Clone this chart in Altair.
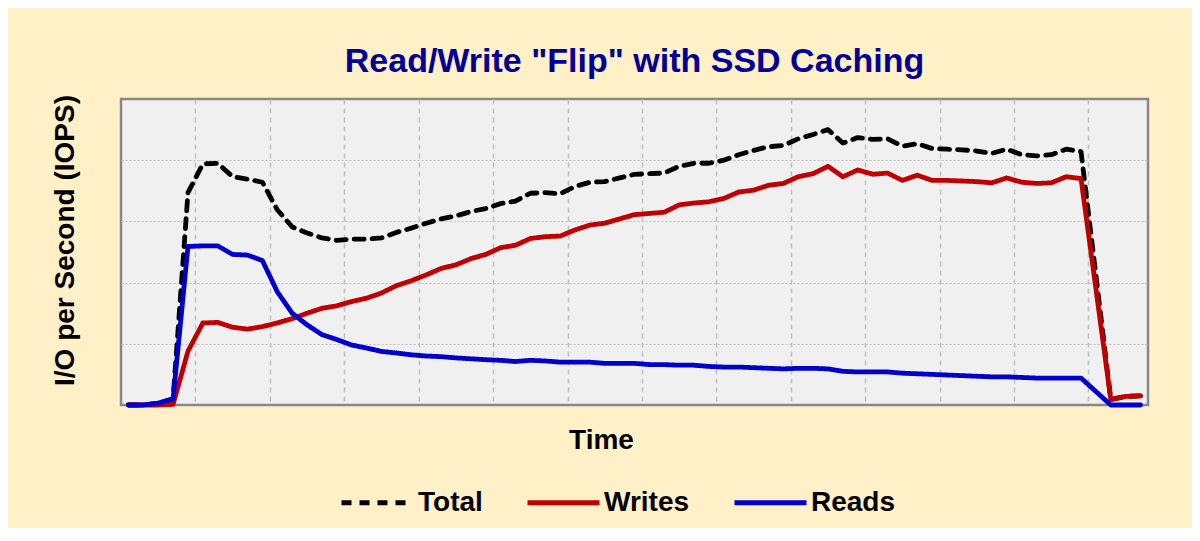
import altair as alt
import pandas as pd

# ---- data (units: IOPS, arbitrary scale 0..5000) ----
series_names = ["Total", "Writes", "Reads"]
series_colors = ["#000000", "#C00000", "#0000CC"]

total = [0, 0, 30, 100, 3470, 3940, 3950, 3730, 3690, 3640,
         3190, 2910, 2810, 2730, 2690, 2710, 2710, 2730, 2820, 2890,
         2970, 3040, 3090, 3160, 3210, 3290, 3330, 3460, 3470, 3450,
         3570, 3640, 3650, 3710, 3770, 3780, 3790, 3900, 3950, 3950,
         4000, 4090, 4160, 4220, 4240, 4350, 4420, 4500, 4280, 4370,
         4340, 4350, 4230, 4270, 4190, 4180, 4170, 4150, 4110, 4180,
         4090, 4070, 4090, 4180, 4140, 2120, 90, 140, 150]

writes = [0, 0, 0, 10, 880, 1340, 1350, 1270, 1240, 1280,
          1340, 1410, 1500, 1580, 1620, 1690, 1745, 1830, 1950, 2030,
          2125, 2230, 2290, 2390, 2460, 2570, 2610, 2720, 2750, 2760,
          2860, 2940, 2970, 3040, 3110, 3130, 3150, 3270, 3300, 3320,
          3375, 3480, 3510, 3590, 3620, 3730, 3780, 3900, 3730, 3840,
          3770, 3790, 3670, 3755, 3670, 3670, 3660, 3650, 3630, 3710,
          3640, 3620, 3630, 3730, 3700, 1900, 90, 140, 150]

reads = [0, 0, 30, 100, 2590, 2600, 2600, 2460, 2450, 2360,
         1850, 1500, 1310, 1150, 1070, 980, 930, 875, 850, 820,
         800, 790, 770, 755, 740, 730, 710, 730, 720, 700,
         700, 700, 680, 680, 680, 660, 660, 650, 650, 630,
         620, 620, 610, 600, 590, 600, 600, 590, 550, 540,
         540, 540, 520, 510, 500, 490, 480, 470, 460, 460,
         450, 440, 440, 440, 440, 220, 0, 0, 0]

time_idx = list(range(len(total)))

rows = []
for name, vals in zip(series_names, [total, writes, reads]):
    for t, v in zip(time_idx, vals):
        rows.append({"t": t, "iops": v, "series": name})
df = pd.DataFrame(rows)

n = len(time_idx)
grid_x = [5 * k - 0.5 for k in range(1, n // 5 + 1) if 5 * k - 0.5 < n - 0.5]
grid_y = [1000, 2000, 3000, 4000]

SANS = "'Liberation Sans', Arial, sans-serif"

legend = alt.Legend(
    title=None, orient="none", legendX=218, legendY=365, direction="horizontal",
    symbolType="stroke", symbolSize=5184, symbolStrokeWidth=4.8,
    labelFont=SANS, labelFontSize=28, labelFontWeight="bold", labelColor="#000000",
    labelOffset=2, columnPadding=34, padding=0,
)

chart = alt.Chart(df).mark_line(
    strokeWidth=4.8, strokeCap="round", strokeJoin="round"
).encode(
    x=alt.X("t:Q",
            scale=alt.Scale(domain=[-0.5, n - 0.5], nice=False, zero=False),
            axis=alt.Axis(values=grid_x, labels=False, ticks=False, domain=False,
                          grid=True, gridDash=[5, 4], gridColor="#BFBFBF", gridWidth=1.5,
                          title="Time", titleFont=SANS, titleFontSize=28,
                          titleFontWeight="bold", titleColor="#000000",
                          titleX=480, titleY=43, titleAlign="center",
                          titleBaseline="alphabetic")),
    y=alt.Y("iops:Q",
            scale=alt.Scale(domain=[0, 5000], nice=False),
            axis=alt.Axis(values=grid_y, labels=False, ticks=False, domain=False,
                          grid=True, gridDash=[2, 2], gridColor="#BFBFBF", gridWidth=1,
                          title="I/O per Second (IOPS)", titleFont=SANS, titleFontSize=28,
                          titleFontWeight="bold", titleColor="#000000",
                          titleAngle=270, titleX=-48, titleY=141, titleAlign="center",
                          titleBaseline="alphabetic")),
    color=alt.Color("series:N", sort=series_names,
                    scale=alt.Scale(domain=series_names, range=series_colors),
                    legend=legend),
    strokeDash=alt.StrokeDash("series:N", sort=series_names,
                              scale=alt.Scale(domain=series_names,
                                              range=[[10, 8], [1, 0], [1, 0]]),
                              legend=legend),
).properties(
    width=1027,
    height=306,
    title=alt.TitleParams('Read/Write "Flip" with SSD Caching', font=SANS,
                          fontSize=34, fontWeight="bold", color="#000099",
                          anchor="middle", offset=33, dy=44, baseline="alphabetic"),
    autosize=alt.AutoSizeParams(type="none"),
    padding={"left": 113, "top": 91, "right": 44, "bottom": 123},
    background="#FFF0C8",
).configure_view(
    fill="#F0F0F0", stroke="#888888", strokeWidth=2.5
)

chart.save("out.html", embed_options={"renderer": "svg", "actions": False})
